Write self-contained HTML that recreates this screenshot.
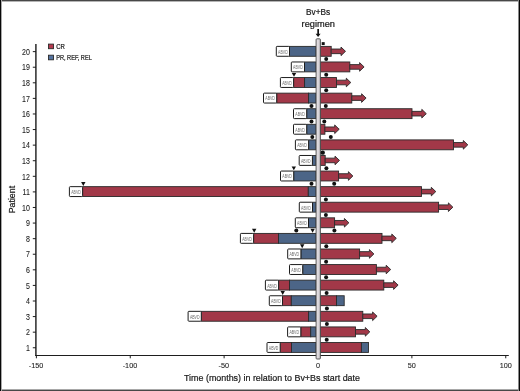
<!DOCTYPE html><html><head><meta charset="utf-8"><style>html,body{margin:0;padding:0;background:#fff;}svg{display:block;will-change:transform;}text{font-family:"Liberation Sans",sans-serif;} .d text, text.d{stroke:#1a1a1a;stroke-width:0.22px;} .d2 text{stroke:#1a1a1a;stroke-width:0.08px;}</style></head><body>
<svg width="520" height="391" viewBox="0 0 520 391">
<rect x="0" y="0" width="520" height="391" fill="#fff"/>
<rect x="0" y="0" width="520" height="1" fill="#484848"/>
<rect x="0" y="1" width="520" height="1" fill="#b4b4b4"/>
<rect x="0" y="390" width="520" height="1" fill="#484848"/>
<rect x="0" y="389" width="520" height="1" fill="#a8a8a8"/>
<rect x="0" y="0" width="1" height="391" fill="#080808"/>
<rect x="1" y="0" width="1" height="391" fill="#a8a8a8"/>
<rect x="519" y="0" width="1" height="391" fill="#080808"/>
<rect x="518" y="0" width="1" height="391" fill="#8a8a8a"/>
<g stroke="#1e1e1e" stroke-width="1" fill="none">
<line x1="35.9" y1="44" x2="35.9" y2="356" stroke-width="1.5" stroke="#2a2a2a"/>
<line x1="35.2" y1="355.5" x2="508.8" y2="355.5" stroke-width="1.1"/>
<line x1="32.8" y1="347.75" x2="36" y2="347.75"/>
<line x1="32.8" y1="332.17" x2="36" y2="332.17"/>
<line x1="32.8" y1="316.58" x2="36" y2="316.58"/>
<line x1="32.8" y1="301.00" x2="36" y2="301.00"/>
<line x1="32.8" y1="285.41" x2="36" y2="285.41"/>
<line x1="32.8" y1="269.82" x2="36" y2="269.82"/>
<line x1="32.8" y1="254.24" x2="36" y2="254.24"/>
<line x1="32.8" y1="238.66" x2="36" y2="238.66"/>
<line x1="32.8" y1="223.07" x2="36" y2="223.07"/>
<line x1="32.8" y1="207.48" x2="36" y2="207.48"/>
<line x1="32.8" y1="191.90" x2="36" y2="191.90"/>
<line x1="32.8" y1="176.31" x2="36" y2="176.31"/>
<line x1="32.8" y1="160.73" x2="36" y2="160.73"/>
<line x1="32.8" y1="145.14" x2="36" y2="145.14"/>
<line x1="32.8" y1="129.56" x2="36" y2="129.56"/>
<line x1="32.8" y1="113.97" x2="36" y2="113.97"/>
<line x1="32.8" y1="98.39" x2="36" y2="98.39"/>
<line x1="32.8" y1="82.80" x2="36" y2="82.80"/>
<line x1="32.8" y1="67.22" x2="36" y2="67.22"/>
<line x1="32.8" y1="51.63" x2="36" y2="51.63"/>
<line x1="36.38" y1="355" x2="36.38" y2="358.3"/>
<line x1="130.25" y1="355" x2="130.25" y2="358.3"/>
<line x1="224.12" y1="355" x2="224.12" y2="358.3"/>
<line x1="318.00" y1="355" x2="318.00" y2="358.3"/>
<line x1="411.88" y1="355" x2="411.88" y2="358.3"/>
<line x1="505.75" y1="355" x2="505.75" y2="358.3"/>
</g>
<g class="d2" font-size="8.2" fill="#1a1a1a" text-anchor="end">
<text transform="translate(29.8,350.95) scale(0.86,1)">1</text>
<text transform="translate(29.8,335.37) scale(0.86,1)">2</text>
<text transform="translate(29.8,319.78) scale(0.86,1)">3</text>
<text transform="translate(29.8,304.19) scale(0.86,1)">4</text>
<text transform="translate(29.8,288.61) scale(0.86,1)">5</text>
<text transform="translate(29.8,273.02) scale(0.86,1)">6</text>
<text transform="translate(29.8,257.44) scale(0.86,1)">7</text>
<text transform="translate(29.8,241.85) scale(0.86,1)">8</text>
<text transform="translate(29.8,226.27) scale(0.86,1)">9</text>
<text transform="translate(29.8,210.68) scale(0.86,1)">10</text>
<text transform="translate(29.8,195.10) scale(0.86,1)">11</text>
<text transform="translate(29.8,179.51) scale(0.86,1)">12</text>
<text transform="translate(29.8,163.93) scale(0.86,1)">13</text>
<text transform="translate(29.8,148.34) scale(0.86,1)">14</text>
<text transform="translate(29.8,132.76) scale(0.86,1)">15</text>
<text transform="translate(29.8,117.17) scale(0.86,1)">16</text>
<text transform="translate(29.8,101.59) scale(0.86,1)">17</text>
<text transform="translate(29.8,86.00) scale(0.86,1)">18</text>
<text transform="translate(29.8,70.42) scale(0.86,1)">19</text>
<text transform="translate(29.8,54.83) scale(0.86,1)">20</text>
</g>
<g class="d2" font-size="8.1" fill="#1a1a1a" text-anchor="middle">
<text transform="translate(36.08,368.4) scale(0.9,1)">-150</text>
<text transform="translate(129.95,368.4) scale(0.9,1)">-100</text>
<text transform="translate(223.82,368.4) scale(0.9,1)">-50</text>
<text transform="translate(318.00,368.4) scale(0.9,1)">0</text>
<text transform="translate(411.88,368.4) scale(0.9,1)">50</text>
<text transform="translate(505.75,368.4) scale(0.9,1)">100</text>
</g>
<text class="d" x="272" y="381.3" font-size="9.7" fill="#1a1a1a" text-anchor="middle" textLength="176" lengthAdjust="spacingAndGlyphs">Time (months) in relation to Bv+Bs start date</text>
<text class="d" transform="translate(15.4,199.6) rotate(-90)" font-size="9.3" fill="#1a1a1a" text-anchor="middle" textLength="27.5" lengthAdjust="spacingAndGlyphs">Patient</text>
<text class="d" x="318.1" y="14.9" font-size="8.9" fill="#1a1a1a" text-anchor="middle" textLength="24.2" lengthAdjust="spacingAndGlyphs">Bv+Bs</text>
<text class="d" x="318.3" y="26.6" font-size="9.1" fill="#1a1a1a" text-anchor="middle" textLength="33.4" lengthAdjust="spacingAndGlyphs">regimen</text>
<rect x="317.3" y="29" width="1.7" height="5.2" fill="#111"/>
<path d="M315.6,33.8 L320.6,33.8 L318.1,37.1 Z" fill="#111"/>
<rect x="48.5" y="44.1" width="5" height="4.6" fill="#b43a4e" stroke="#2a2a2a" stroke-width="0.9"/>
<rect x="48.5" y="55.2" width="5" height="4.6" fill="#5473a0" stroke="#2a2a2a" stroke-width="0.9"/>
<text class="d" x="56.2" y="48.9" font-size="7.2" fill="#1a1a1a" textLength="8.7" lengthAdjust="spacingAndGlyphs">CR</text>
<text class="d" x="56.2" y="60.1" font-size="7.2" fill="#1a1a1a" textLength="35.6" lengthAdjust="spacingAndGlyphs">PR, REF, REL</text>
<g stroke="#2a2a2a" stroke-width="0.9">
<rect x="289.50" y="46.38" width="26.50" height="9.9" fill="#4c6587"/>
<rect x="276.30" y="46.38" width="13.2" height="9.9" rx="0.8" fill="#fff" stroke="#1c1c1c" stroke-width="1"/>
<rect x="320.50" y="46.38" width="10.70" height="9.9" fill="#a23848"/>
<path d="M331.20,49.03 L341.00,49.03 L341.00,47.03 L345.50,51.33 L341.00,55.63 L341.00,53.63 L331.20,53.63 Z" fill="#a23848"/>
<rect x="304.50" y="61.97" width="11.50" height="9.9" fill="#4c6587"/>
<rect x="291.30" y="61.97" width="13.2" height="9.9" rx="0.8" fill="#fff" stroke="#1c1c1c" stroke-width="1"/>
<rect x="320.50" y="61.97" width="29.30" height="9.9" fill="#a23848"/>
<path d="M349.80,64.62 L359.60,64.62 L359.60,62.62 L364.10,66.92 L359.60,71.22 L359.60,69.22 L349.80,69.22 Z" fill="#a23848"/>
<rect x="293.60" y="77.55" width="11.00" height="9.9" fill="#a23848"/>
<rect x="304.60" y="77.55" width="11.40" height="9.9" fill="#4c6587"/>
<rect x="280.40" y="77.55" width="13.2" height="9.9" rx="0.8" fill="#fff" stroke="#1c1c1c" stroke-width="1"/>
<rect x="320.50" y="77.55" width="16.00" height="9.9" fill="#a23848"/>
<path d="M336.50,80.20 L346.30,80.20 L346.30,78.20 L350.80,82.50 L346.30,86.80 L346.30,84.80 L336.50,84.80 Z" fill="#a23848"/>
<rect x="276.70" y="93.14" width="31.90" height="9.9" fill="#a23848"/>
<rect x="308.60" y="93.14" width="7.40" height="9.9" fill="#4c6587"/>
<rect x="263.50" y="93.14" width="13.2" height="9.9" rx="0.8" fill="#fff" stroke="#1c1c1c" stroke-width="1"/>
<rect x="320.50" y="93.14" width="31.30" height="9.9" fill="#a23848"/>
<path d="M351.80,95.79 L361.60,95.79 L361.60,93.79 L366.10,98.09 L361.60,102.39 L361.60,100.39 L351.80,100.39 Z" fill="#a23848"/>
<rect x="306.70" y="108.72" width="9.30" height="9.9" fill="#4c6587"/>
<rect x="293.50" y="108.72" width="13.2" height="9.9" rx="0.8" fill="#fff" stroke="#1c1c1c" stroke-width="1"/>
<rect x="320.50" y="108.72" width="91.50" height="9.9" fill="#a23848"/>
<path d="M412.00,111.37 L421.80,111.37 L421.80,109.37 L426.30,113.67 L421.80,117.97 L421.80,115.97 L412.00,115.97 Z" fill="#a23848"/>
<rect x="306.70" y="124.31" width="9.30" height="9.9" fill="#4c6587"/>
<rect x="293.50" y="124.31" width="13.2" height="9.9" rx="0.8" fill="#fff" stroke="#1c1c1c" stroke-width="1"/>
<rect x="320.50" y="124.31" width="4.40" height="9.9" fill="#a23848"/>
<path d="M324.90,126.96 L334.70,126.96 L334.70,124.96 L339.20,129.26 L334.70,133.56 L334.70,131.56 L324.90,131.56 Z" fill="#a23848"/>
<rect x="308.60" y="139.89" width="7.40" height="9.9" fill="#4c6587"/>
<rect x="295.40" y="139.89" width="13.2" height="9.9" rx="0.8" fill="#fff" stroke="#1c1c1c" stroke-width="1"/>
<rect x="320.50" y="139.89" width="133.00" height="9.9" fill="#a23848"/>
<path d="M453.50,142.54 L463.30,142.54 L463.30,140.54 L467.80,144.84 L463.30,149.14 L463.30,147.14 L453.50,147.14 Z" fill="#a23848"/>
<rect x="312.40" y="155.48" width="3.60" height="9.9" fill="#4c6587"/>
<rect x="299.20" y="155.48" width="13.2" height="9.9" rx="0.8" fill="#fff" stroke="#1c1c1c" stroke-width="1"/>
<rect x="320.50" y="155.48" width="4.70" height="9.9" fill="#a23848"/>
<path d="M325.20,158.13 L335.00,158.13 L335.00,156.13 L339.50,160.43 L335.00,164.73 L335.00,162.73 L325.20,162.73 Z" fill="#a23848"/>
<rect x="293.70" y="171.06" width="22.30" height="9.9" fill="#4c6587"/>
<rect x="280.50" y="171.06" width="13.2" height="9.9" rx="0.8" fill="#fff" stroke="#1c1c1c" stroke-width="1"/>
<rect x="320.50" y="171.06" width="18.10" height="9.9" fill="#a23848"/>
<path d="M338.60,173.71 L348.40,173.71 L348.40,171.71 L352.90,176.01 L348.40,180.31 L348.40,178.31 L338.60,178.31 Z" fill="#a23848"/>
<rect x="82.60" y="186.65" width="225.70" height="9.9" fill="#a23848"/>
<rect x="308.30" y="186.65" width="7.70" height="9.9" fill="#4c6587"/>
<rect x="69.40" y="186.65" width="13.2" height="9.9" rx="0.8" fill="#fff" stroke="#1c1c1c" stroke-width="1"/>
<rect x="320.50" y="186.65" width="101.00" height="9.9" fill="#a23848"/>
<path d="M421.50,189.30 L431.30,189.30 L431.30,187.30 L435.80,191.60 L431.30,195.90 L431.30,193.90 L421.50,193.90 Z" fill="#a23848"/>
<rect x="312.50" y="202.23" width="3.50" height="9.9" fill="#4c6587"/>
<rect x="299.30" y="202.23" width="13.2" height="9.9" rx="0.8" fill="#fff" stroke="#1c1c1c" stroke-width="1"/>
<rect x="320.50" y="202.23" width="118.10" height="9.9" fill="#a23848"/>
<path d="M438.60,204.88 L448.40,204.88 L448.40,202.88 L452.90,207.18 L448.40,211.48 L448.40,209.48 L438.60,209.48 Z" fill="#a23848"/>
<rect x="308.50" y="217.82" width="7.50" height="9.9" fill="#4c6587"/>
<rect x="295.30" y="217.82" width="13.2" height="9.9" rx="0.8" fill="#fff" stroke="#1c1c1c" stroke-width="1"/>
<rect x="320.50" y="217.82" width="14.10" height="9.9" fill="#a23848"/>
<path d="M334.60,220.47 L344.40,220.47 L344.40,218.47 L348.90,222.77 L344.40,227.07 L344.40,225.07 L334.60,225.07 Z" fill="#a23848"/>
<rect x="253.60" y="233.41" width="24.90" height="9.9" fill="#a23848"/>
<rect x="278.50" y="233.41" width="37.50" height="9.9" fill="#4c6587"/>
<rect x="240.40" y="233.41" width="13.2" height="9.9" rx="0.8" fill="#fff" stroke="#1c1c1c" stroke-width="1"/>
<rect x="320.50" y="233.41" width="61.50" height="9.9" fill="#a23848"/>
<path d="M382.00,236.05 L391.80,236.05 L391.80,234.05 L396.30,238.35 L391.80,242.66 L391.80,240.66 L382.00,240.66 Z" fill="#a23848"/>
<rect x="300.90" y="248.99" width="15.10" height="9.9" fill="#4c6587"/>
<rect x="287.70" y="248.99" width="13.2" height="9.9" rx="0.8" fill="#fff" stroke="#1c1c1c" stroke-width="1"/>
<rect x="320.50" y="248.99" width="39.10" height="9.9" fill="#a23848"/>
<path d="M359.60,251.64 L369.40,251.64 L369.40,249.64 L373.90,253.94 L369.40,258.24 L369.40,256.24 L359.60,256.24 Z" fill="#a23848"/>
<rect x="302.70" y="264.57" width="13.30" height="9.9" fill="#4c6587"/>
<rect x="289.50" y="264.57" width="13.2" height="9.9" rx="0.8" fill="#fff" stroke="#1c1c1c" stroke-width="1"/>
<rect x="320.50" y="264.57" width="55.90" height="9.9" fill="#a23848"/>
<path d="M376.40,267.22 L386.20,267.22 L386.20,265.22 L390.70,269.52 L386.20,273.82 L386.20,271.82 L376.40,271.82 Z" fill="#a23848"/>
<rect x="278.60" y="280.16" width="10.90" height="9.9" fill="#a23848"/>
<rect x="289.50" y="280.16" width="26.50" height="9.9" fill="#4c6587"/>
<rect x="265.40" y="280.16" width="13.2" height="9.9" rx="0.8" fill="#fff" stroke="#1c1c1c" stroke-width="1"/>
<rect x="320.50" y="280.16" width="63.30" height="9.9" fill="#a23848"/>
<path d="M383.80,282.81 L393.60,282.81 L393.60,280.81 L398.10,285.11 L393.60,289.41 L393.60,287.41 L383.80,287.41 Z" fill="#a23848"/>
<rect x="282.50" y="295.75" width="8.80" height="9.9" fill="#a23848"/>
<rect x="291.30" y="295.75" width="24.70" height="9.9" fill="#4c6587"/>
<rect x="269.30" y="295.75" width="13.2" height="9.9" rx="0.8" fill="#fff" stroke="#1c1c1c" stroke-width="1"/>
<rect x="320.50" y="295.75" width="16.00" height="9.9" fill="#a23848"/>
<rect x="336.50" y="295.75" width="7.70" height="9.9" fill="#4c6587"/>
<rect x="201.30" y="311.33" width="107.30" height="9.9" fill="#a23848"/>
<rect x="308.60" y="311.33" width="7.40" height="9.9" fill="#4c6587"/>
<rect x="188.10" y="311.33" width="13.2" height="9.9" rx="0.8" fill="#fff" stroke="#1c1c1c" stroke-width="1"/>
<rect x="320.50" y="311.33" width="42.30" height="9.9" fill="#a23848"/>
<path d="M362.80,313.98 L372.60,313.98 L372.60,311.98 L377.10,316.28 L372.60,320.58 L372.60,318.58 L362.80,318.58 Z" fill="#a23848"/>
<rect x="300.80" y="326.92" width="9.90" height="9.9" fill="#a23848"/>
<rect x="310.70" y="326.92" width="5.30" height="9.9" fill="#4c6587"/>
<rect x="287.60" y="326.92" width="13.2" height="9.9" rx="0.8" fill="#fff" stroke="#1c1c1c" stroke-width="1"/>
<rect x="320.50" y="326.92" width="35.00" height="9.9" fill="#a23848"/>
<path d="M355.50,329.56 L365.30,329.56 L365.30,327.56 L369.80,331.87 L365.30,336.17 L365.30,334.17 L355.50,334.17 Z" fill="#a23848"/>
<rect x="280.20" y="342.50" width="11.30" height="9.9" fill="#a23848"/>
<rect x="291.50" y="342.50" width="24.50" height="9.9" fill="#4c6587"/>
<rect x="267.00" y="342.50" width="13.2" height="9.9" rx="0.8" fill="#fff" stroke="#1c1c1c" stroke-width="1"/>
<rect x="320.50" y="342.50" width="40.90" height="9.9" fill="#a23848"/>
<rect x="361.40" y="342.50" width="7.10" height="9.9" fill="#4c6587"/>
</g>
<g font-size="4.6" fill="#6a6a6a" text-anchor="middle">
<text x="282.90" y="53.73" textLength="9.6" lengthAdjust="spacingAndGlyphs">ABVD</text>
<text x="297.90" y="69.32" textLength="9.6" lengthAdjust="spacingAndGlyphs">ABVD</text>
<text x="287.00" y="84.91" textLength="9.6" lengthAdjust="spacingAndGlyphs">ABVD</text>
<text x="270.10" y="100.49" textLength="9.6" lengthAdjust="spacingAndGlyphs">ABVD</text>
<text x="300.10" y="116.07" textLength="9.6" lengthAdjust="spacingAndGlyphs">ABVD</text>
<text x="300.10" y="131.66" textLength="9.6" lengthAdjust="spacingAndGlyphs">ABVD</text>
<text x="302.00" y="147.24" textLength="9.6" lengthAdjust="spacingAndGlyphs">ABVD</text>
<text x="305.80" y="162.83" textLength="9.6" lengthAdjust="spacingAndGlyphs">ABVD</text>
<text x="287.10" y="178.41" textLength="9.6" lengthAdjust="spacingAndGlyphs">ABVD</text>
<text x="76.00" y="194.00" textLength="9.6" lengthAdjust="spacingAndGlyphs">ABVD</text>
<text x="305.90" y="209.58" textLength="9.6" lengthAdjust="spacingAndGlyphs">ABVD</text>
<text x="301.90" y="225.17" textLength="9.6" lengthAdjust="spacingAndGlyphs">ABVD</text>
<text x="247.00" y="240.75" textLength="9.6" lengthAdjust="spacingAndGlyphs">ABVD</text>
<text x="294.30" y="256.34" textLength="9.6" lengthAdjust="spacingAndGlyphs">ABVD</text>
<text x="296.10" y="271.92" textLength="9.6" lengthAdjust="spacingAndGlyphs">ABVD</text>
<text x="272.00" y="287.51" textLength="9.6" lengthAdjust="spacingAndGlyphs">ABVD</text>
<text x="275.90" y="303.09" textLength="9.6" lengthAdjust="spacingAndGlyphs">ABVD</text>
<text x="194.70" y="318.68" textLength="9.6" lengthAdjust="spacingAndGlyphs">ABVD</text>
<text x="294.20" y="334.26" textLength="9.6" lengthAdjust="spacingAndGlyphs">ABVD</text>
<text x="273.60" y="349.85" textLength="9.6" lengthAdjust="spacingAndGlyphs">ABVD</text>
</g>
<defs><linearGradient id="zg" x1="0" x2="1" y1="0" y2="0"><stop offset="0" stop-color="#e6e2e6"/><stop offset="0.6" stop-color="#d8d4d8"/><stop offset="1" stop-color="#b8b4b8"/></linearGradient></defs>
<rect x="316.1" y="38.8" width="4.3" height="320.2" rx="0.8" fill="url(#zg)" stroke="#4a4a4a" stroke-width="0.9"/>
<g fill="#111">
<circle cx="326.2" cy="59.12" r="2.0"/>
<circle cx="326.2" cy="74.71" r="2.0"/>
<circle cx="326.2" cy="90.30" r="2.0"/>
<circle cx="311.5" cy="105.88" r="2.0"/>
<circle cx="325.8" cy="105.88" r="2.0"/>
<circle cx="311.5" cy="121.46" r="2.0"/>
<circle cx="324.3" cy="121.46" r="2.0"/>
<circle cx="312.3" cy="137.05" r="2.0"/>
<circle cx="330.8" cy="137.05" r="2.0"/>
<circle cx="326.4" cy="168.22" r="2.0"/>
<circle cx="311.5" cy="183.80" r="2.0"/>
<circle cx="334.2" cy="183.80" r="2.0"/>
<circle cx="325.9" cy="199.39" r="2.0"/>
<circle cx="325.9" cy="214.97" r="2.0"/>
<circle cx="296.3" cy="230.56" r="2.0"/>
<circle cx="334.4" cy="230.56" r="2.0"/>
<circle cx="326.3" cy="246.14" r="2.0"/>
<circle cx="326.1" cy="261.73" r="2.0"/>
<circle cx="326.1" cy="277.31" r="2.0"/>
<circle cx="326.6" cy="292.90" r="2.0"/>
<circle cx="326.9" cy="308.49" r="2.0"/>
<circle cx="326.9" cy="324.07" r="2.0"/>
<circle cx="326.7" cy="339.66" r="2.0"/>
<circle cx="322.7" cy="152.63" r="2.2"/>
<path d="M291.80,72.91 L296.20,72.91 L294.00,76.81 Z"/>
<path d="M291.60,166.42 L296.00,166.42 L293.80,170.32 Z"/>
<path d="M81.10,182.00 L85.50,182.00 L83.30,185.90 Z"/>
<path d="M252.00,228.76 L256.40,228.76 L254.20,232.66 Z"/>
<path d="M310.40,228.76 L314.80,228.76 L312.60,232.66 Z"/>
<path d="M300.00,244.34 L304.40,244.34 L302.20,248.24 Z"/>
<path d="M280.50,291.10 L284.90,291.10 L282.70,295.00 Z"/>
<rect x="321.70" y="42.14" width="3" height="2.9"/>
</g>
</svg></body></html>
